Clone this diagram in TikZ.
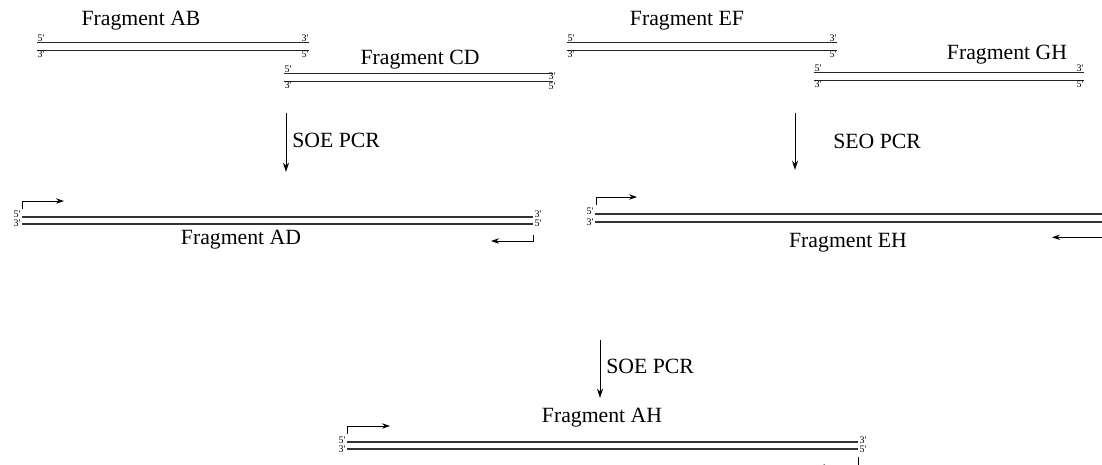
\documentclass[tikz,border=0pt]{standalone}
\usepackage{fontspec}
\setmainfont{Liberation Serif}
\usetikzlibrary{arrows.meta}
\newcommand{\pr}{\textquotesingle}
\begin{document}
\begin{tikzpicture}[x=0.75pt,y=-0.75pt,
  strandthin/.style={draw=black!85, line width=0.72pt},
  strandthick/.style={draw=black!80, line width=1.4pt},
  endlbl/.style={font=\fontsize{7.5}{8}\selectfont, inner sep=0.3pt},
  fraglbl/.style={font=\fontsize{16.3}{18}\selectfont, inner sep=0pt},
  pcrlbl/.style={font=\fontsize{16.3}{18}\selectfont, inner sep=0pt, anchor=west},
  pcrarrow/.style={draw=black, line width=0.7pt, -{Stealth[length=7pt,width=4.5pt]}},
  primer/.style={draw=black, line width=0.7pt, -{Stealth[length=6pt,width=4pt]}}]
\useasboundingbox (0,0) rectangle (1102,464);

% ---------- Fragment AB ----------
\coordinate (ab1) at (37,42);  \coordinate (ab2) at (309,42);
\coordinate (ab3) at (37,50);  \coordinate (ab4) at (309,50);
\draw[strandthin] (ab1) -- (ab2);
\draw[strandthin] (ab3) -- (ab4);
\node[endlbl, anchor=south west] (ab5a) at (ab1) {5\pr};
\node[endlbl, anchor=north west] (ab3a) at (ab3) {3\pr};
\node[endlbl, anchor=south east] (ab3b) at (ab2) {3\pr};
\node[endlbl, anchor=north east] (ab5b) at (ab4) {5\pr};
\node[fraglbl] (fab) at (141,21) {Fragment AB};

% ---------- Fragment CD ----------
\coordinate (cd1) at (284,73);  \coordinate (cd2) at (553,73);
\coordinate (cd3) at (284,81);  \coordinate (cd4) at (553,81);
\draw[strandthin] (cd1) -- (cd2);
\draw[strandthin] (cd3) -- (cd4);
\node[endlbl, anchor=south west] (cd5a) at (cd1) {5\pr};
\node[endlbl, anchor=north west] (cd3a) at (cd3) {3\pr};
\node[endlbl, anchor=east] (cd3b) at (556,76.5) {3\pr};
\node[endlbl, anchor=east] (cd5b) at (556,86) {5\pr};
\node[fraglbl] (fcd) at (420,60) {Fragment CD};

% ---------- Fragment EF ----------
\coordinate (ef1) at (567,42);  \coordinate (ef2) at (837,42);
\coordinate (ef3) at (567,50);  \coordinate (ef4) at (837,50);
\draw[strandthin] (ef1) -- (ef2);
\draw[strandthin] (ef3) -- (ef4);
\node[endlbl, anchor=south west] (ef5a) at (ef1) {5\pr};
\node[endlbl, anchor=north west] (ef3a) at (ef3) {3\pr};
\node[endlbl, anchor=south east] (ef3b) at (ef2) {3\pr};
\node[endlbl, anchor=north east] (ef5b) at (ef4) {5\pr};
\node[fraglbl] (fef) at (687,21) {Fragment EF};

% ---------- Fragment GH ----------
\coordinate (gh1) at (814,72);  \coordinate (gh2) at (1084,72);
\coordinate (gh3) at (814,80);  \coordinate (gh4) at (1084,80);
\draw[strandthin] (gh1) -- (gh2);
\draw[strandthin] (gh3) -- (gh4);
\node[endlbl, anchor=south west] (gh5a) at (gh1) {5\pr};
\node[endlbl, anchor=north west] (gh3a) at (gh3) {3\pr};
\node[endlbl, anchor=south east] (gh3b) at (gh2) {3\pr};
\node[endlbl, anchor=north east] (gh5b) at (gh4) {5\pr};
\node[fraglbl] (fgh) at (1007,55) {Fragment GH};

% ---------- PCR arrows ----------
\coordinate (p1s) at (286,113); \coordinate (p1e) at (286,172);
\draw[pcrarrow] (p1s) -- (p1e);
\node[pcrlbl] (pl1) at (292,140) {SOE PCR};
\coordinate (p2s) at (795,113); \coordinate (p2e) at (795,170);
\draw[pcrarrow] (p2s) -- (p2e);
\node[pcrlbl] (pl2) at (833,141) {SEO PCR};
\coordinate (p3s) at (600,340); \coordinate (p3e) at (600,398);
\draw[pcrarrow] (p3s) -- (p3e);
\node[pcrlbl] (pl3) at (606,366) {SOE PCR};

% ---------- Fragment AD ----------
\coordinate (ad1) at (22,217);  \coordinate (ad2) at (533,217);
\coordinate (ad3) at (22,224);  \coordinate (ad4) at (533,224);
\draw[strandthick] (ad1) -- (ad2);
\draw[strandthick] (ad3) -- (ad4);
\node[endlbl, anchor=east] (ad5a) at (21,214.5) {5\pr};
\node[endlbl, anchor=east] (ad3a) at (21,223.5) {3\pr};
\node[endlbl, anchor=west] (ad3b) at (534,214.5) {3\pr};
\node[endlbl, anchor=west] (ad5b) at (534,223.5) {5\pr};
\node[fraglbl] (fad) at (241,240) {Fragment AD};
\coordinate (adf0) at (22,209); \coordinate (adf1) at (22,201); \coordinate (adf2) at (64,201);
\draw[primer] (adf0) -- (adf1) -- (adf2);
\coordinate (adr0) at (533,235); \coordinate (adr1) at (533,241); \coordinate (adr2) at (491,241);
\draw[primer] (adr0) -- (adr1) -- (adr2);

% ---------- Fragment EH ----------
\coordinate (eh1) at (595,214);  \coordinate (eh2) at (1102,214);
\coordinate (eh3) at (595,222);  \coordinate (eh4) at (1102,222);
\draw[strandthick] (eh1) -- (eh2);
\draw[strandthick] (eh3) -- (eh4);
\node[endlbl, anchor=east] (eh5a) at (594,211.5) {5\pr};
\node[endlbl, anchor=east] (eh3a) at (594,222) {3\pr};
\node[fraglbl] (feh) at (848,243) {Fragment EH};
\coordinate (ehf0) at (596,205); \coordinate (ehf1) at (596,197); \coordinate (ehf2) at (637,197);
\draw[primer] (ehf0) -- (ehf1) -- (ehf2);
\coordinate (ehr1) at (1102,237.3); \coordinate (ehr2) at (1052,237.3);
\draw[primer] (ehr1) -- (ehr2);

% ---------- Fragment AH ----------
\coordinate (ah1) at (347,442);  \coordinate (ah2) at (858,442);
\coordinate (ah3) at (347,449);  \coordinate (ah4) at (858,449);
\draw[strandthick] (ah1) -- (ah2);
\draw[strandthick] (ah3) -- (ah4);
\node[endlbl, anchor=east] (ah5a) at (346,440.5) {5\pr};
\node[endlbl, anchor=east] (ah3a) at (346,449) {3\pr};
\node[endlbl, anchor=west] (ah3b) at (859,440.5) {3\pr};
\node[endlbl, anchor=west] (ah5b) at (859,449) {5\pr};
\node[fraglbl] (fah) at (602,418) {Fragment AH};
\coordinate (ahf0) at (347,434); \coordinate (ahf1) at (347,426); \coordinate (ahf2) at (390,426);
\draw[primer] (ahf0) -- (ahf1) -- (ahf2);
\coordinate (ahr0) at (858,457); \coordinate (ahr1) at (858,467); \coordinate (ahr2) at (817,467);
\draw[primer] (ahr0) -- (ahr1) -- (ahr2);
\end{tikzpicture}
\end{document}
